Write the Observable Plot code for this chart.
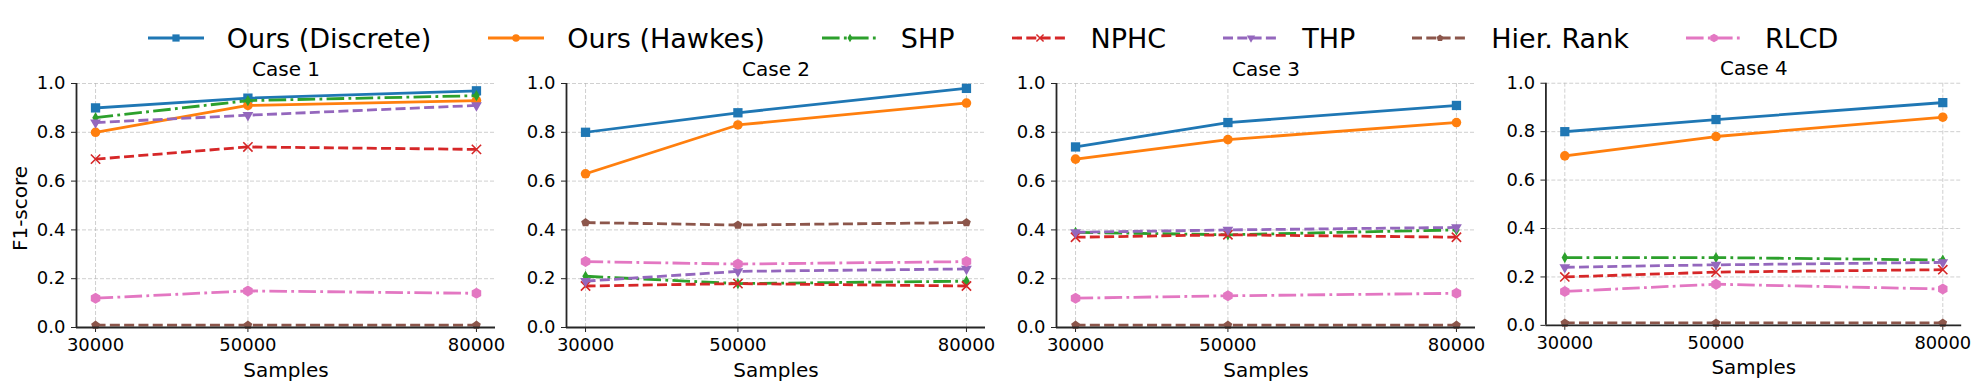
<!DOCTYPE html>
<html><head><meta charset="utf-8">
<script src="https://cdn.jsdelivr.net/npm/d3@7"></script>
<script src="https://cdn.jsdelivr.net/npm/@observablehq/plot@0.6"></script>
<style>
body{margin:0;background:#fff;font-family:"DejaVu Sans",sans-serif;}
#root{position:relative;width:1986px;height:391px;overflow:hidden;background:#fff;}
#legend{position:absolute;left:0;top:0;width:1986px;height:76px;display:flex;justify-content:center;align-items:center;}
.item{display:flex;align-items:center;margin:0 28.5px;}
.item svg{display:block;overflow:visible;}
.item span{font-size:27px;margin-left:23px;color:#000;white-space:nowrap;line-height:1;}
.panel{position:absolute;top:50px;}
</style></head><body><div id="root"><div id="legend"></div></div>
<script>
// ---- data ----
const samples = [30000, 50000, 80000];
const caseTitles = ["Case 1", "Case 2", "Case 3", "Case 4"];
const methods = ["Ours (Discrete)", "Ours (Hawkes)", "SHP", "NPHC", "THP", "Hier. Rank", "RLCD"];
const yTicks = [0, 0.2, 0.4, 0.6, 0.8, 1.0];
// F1-score per case (rows) at each sample size (columns)
const oursDiscrete = [[0.90, 0.94, 0.97], [0.80, 0.88, 0.98], [0.74, 0.84, 0.91], [0.80, 0.85, 0.92]];
const oursHawkes   = [[0.80, 0.91, 0.93], [0.63, 0.83, 0.92], [0.69, 0.77, 0.84], [0.70, 0.78, 0.86]];
const shp          = [[0.86, 0.93, 0.95], [0.21, 0.18, 0.19], [0.39, 0.38, 0.40], [0.28, 0.28, 0.27]];
const nphc         = [[0.69, 0.74, 0.73], [0.17, 0.18, 0.17], [0.37, 0.38, 0.37], [0.20, 0.22, 0.23]];
const thp          = [[0.84, 0.87, 0.91], [0.19, 0.23, 0.24], [0.39, 0.40, 0.41], [0.24, 0.25, 0.26]];
const hierRank     = [[0.01, 0.01, 0.01], [0.43, 0.42, 0.43], [0.01, 0.01, 0.01], [0.01, 0.01, 0.01]];
const rlcd         = [[0.12, 0.15, 0.14], [0.27, 0.26, 0.27], [0.12, 0.13, 0.14], [0.14, 0.17, 0.15]];
const seriesValues = [oursDiscrete, oursHawkes, shp, nphc, thp, hierRank, rlcd];

// ---- custom symbols ----
function polygon(n, areaFactor, rot) {
  return {draw(ctx, size) {
    const R = Math.sqrt(size / areaFactor);
    for (let k = 0; k < n; k++) {
      const a = rot + k * 2 * Math.PI / n;
      const x = R * Math.cos(a), y = R * Math.sin(a);
      k ? ctx.lineTo(x, y) : ctx.moveTo(x, y);
    }
    ctx.closePath();
  }};
}
const pentagon = polygon(5, 2.3776, -Math.PI / 2);
const hexagon = polygon(6, 2.598, -Math.PI / 2);
const triangleDown = {draw(ctx, size) {
  const y = Math.sqrt(size / (Math.sqrt(3) * 3));
  ctx.moveTo(0, y * 2); ctx.lineTo(-Math.sqrt(3) * y, -y); ctx.lineTo(Math.sqrt(3) * y, -y); ctx.closePath();
}};

// ---- styles ----
const colors = ["#1f77b4", "#ff7f0e", "#2ca02c", "#d62728", "#9467bd", "#8c564b", "#e377c2"];
const DASHED = "10,4.3", DASHDOT = "17.6,4.3,2.8,4.3";
const dashes = [null, null, DASHDOT, DASHED, DASHED, DASHED, DASHDOT];
const symbols = ["square", "circle", d3.symbolDiamond, d3.symbolTimes, triangleDown, pentagon, hexagon];
const radii = [5.25, 4.8, 3.4, 4.3, 4.0, 4.0, 5.0];
const strokeOnly = [false, false, false, true, false, false, false];
const d3Sym = s => s === "square" ? d3.symbolSquare : s === "circle" ? d3.symbolCircle : s;

// ---- legend ----
const legend = d3.select("#legend");
methods.forEach((m, i) => {
  const item = legend.append("div").attr("class", "item");
  const svg = item.append("svg").attr("width", 56).attr("height", 28);
  svg.append("line").attr("x1", dashes[i] ? 0 : 1.4).attr("x2", dashes[i] ? 56 : 54.6).attr("y1", 14).attr("y2", 14)
    .attr("stroke", colors[i]).attr("stroke-width", 2.8)
    .attr("stroke-linecap", dashes[i] ? "butt" : "square")
    .attr("stroke-dasharray", dashes[i]);
  const size = Math.PI * radii[i] * radii[i] * 0.6;
  svg.append("path").attr("transform", "translate(28,14)")
    .attr("d", d3.symbol(d3Sym(symbols[i]), size)())
    .attr("fill", strokeOnly[i] ? "none" : colors[i])
    .attr("stroke", strokeOnly[i] ? colors[i] : "none").attr("stroke-width", 1.5);
  item.append("span").text(m);
});

// ---- panels ----
const W = 520, H = 341, ML = 76, MR = 25, MT = 33, MB = 64;
const xDomain = [27500, 82500];
const gridStyle = {stroke: "#b0b0b0", strokeOpacity: 0.6, strokeWidth: 1, strokeDasharray: "4,2"};
caseTitles.forEach((title, ci) => {
  const marks = [
    Plot.gridX(samples, gridStyle),
    Plot.gridY(yTicks, gridStyle),
    Plot.axisX({ticks: samples, tickFormat: d => String(d), tickSize: 5, tickPadding: 6, fontSize: 18, label: null, stroke: "#262626"}),
    Plot.axisY({ticks: yTicks, tickFormat: d => d.toFixed(1), tickSize: 5, tickPadding: 6, fontSize: 18, label: null, stroke: "#262626"})
  ];
  methods.forEach((m, si) => {
    const rows = samples.map((x, i) => ({x, y: seriesValues[si][ci][i], m}));
    marks.push(Plot.line(rows, {x: "x", y: "y", stroke: colors[si], strokeWidth: 2.8,
      strokeDasharray: dashes[si] || undefined, strokeLinecap: dashes[si] ? "butt" : "square"}));
    marks.push(Plot.dot(rows, {x: "x", y: "y", symbol: symbols[si], r: radii[si],
      fill: strokeOnly[si] ? "none" : colors[si], stroke: strokeOnly[si] ? colors[si] : "none", strokeWidth: 1.6}));
  });
  marks.push(Plot.ruleX([xDomain[0]], {stroke: "#262626", strokeWidth: 1.8}));
  marks.push(Plot.ruleY([0], {stroke: "#262626", strokeWidth: 1.8}));
  marks.push(Plot.text([title], {text: d => d, frameAnchor: "top", lineAnchor: "middle", dy: -14.4, fontSize: 20, fill: "#000"}));
  marks.push(Plot.text(["Samples"], {text: d => d, frameAnchor: "bottom", lineAnchor: "middle", dy: 43, fontSize: 20, fill: "#000"}));
  if (ci === 0) marks.push(Plot.text(["F1-score"], {text: d => d, frameAnchor: "left", textAnchor: "middle", lineAnchor: "middle", dx: -56, dy: 3, rotate: -90, fontSize: 20, fill: "#000"}));
  const svg = Plot.plot({
    width: W, height: H, marginLeft: ML, marginRight: MR, marginTop: MT, marginBottom: MB,
    x: {domain: xDomain, label: null},
    y: {domain: [0, 1], label: null},
    style: {fontFamily: "DejaVu Sans", background: "transparent", color: "#000", fontSize: "18px", overflow: "visible"},
    marks
  });
  const div = d3.select("#root").append("div").attr("class", "panel").style("left", (ci * 490) + "px");
  div.node().appendChild(svg);
});
</script></body></html>
